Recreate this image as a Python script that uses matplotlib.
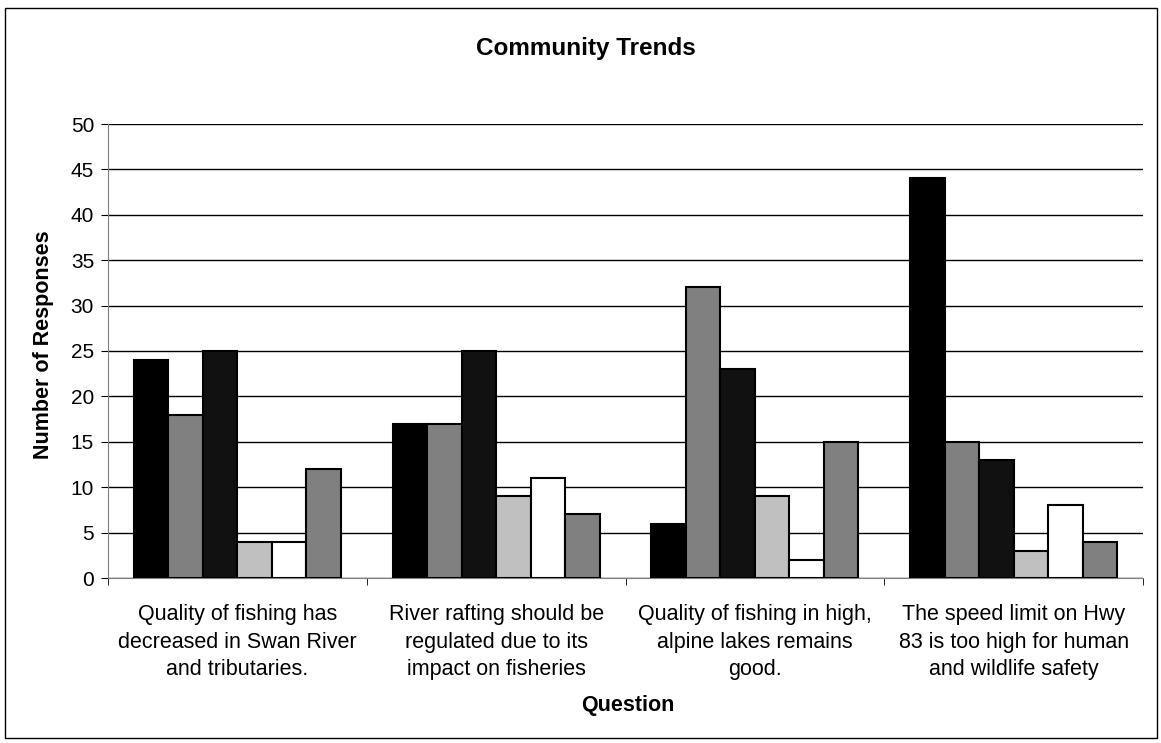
import matplotlib
matplotlib.use("Agg")
import matplotlib.pyplot as plt
import numpy as np
from matplotlib.patches import Rectangle

plt.rcParams['font.family'] = ['Liberation Sans', 'DejaVu Sans']

questions = [
    "Quality of fishing has\ndecreased in Swan River\nand tributaries.",
    "River rafting should be\nregulated due to its\nimpact on fisheries",
    "Quality of fishing in high,\nalpine lakes remains\ngood.",
    "The speed limit on Hwy\n83 is too high for human\nand wildlife safety",
]
s1 = [24, 17, 6, 44]
s2 = [18, 17, 32, 15]
s3 = [25, 25, 23, 13]
s4 = [4, 9, 9, 3]
s5 = [4, 11, 2, 8]
s6 = [12, 7, 15, 4]
series = [s1, s2, s3, s4, s5, s6]
colors = ['#000000', '#808080', '#111111', '#c0c0c0', '#ffffff', '#808080']

fig = plt.figure(figsize=(11.61, 7.43), dpi=100)
ax = fig.add_axes([108 / 1161, 1 - 578 / 743, (1143 - 108) / 1161, (578 - 124) / 743])

x = np.arange(len(questions))
w = 0.8 / 6
for i, (vals, c) in enumerate(zip(series, colors)):
    ax.bar(x - 0.4 + w * (i + 0.5), vals, width=w, color=c,
           edgecolor='black', linewidth=1.5, zorder=3)

ax.set_xlim(-0.5, 3.5)
ax.set_ylim(0, 50)
ax.set_yticks(range(0, 51, 5))
ax.tick_params(axis='y', labelsize=15, length=5, direction='out', pad=5)
ax.yaxis.grid(True, color='black', linewidth=1)
ax.set_axisbelow(True)
ax.set_xticks(x)
ax.set_xticklabels(questions, fontsize=15.5, linespacing=1.4)
ax.tick_params(axis='x', length=0, pad=19)
ax.set_xticks([-0.5, 0.5, 1.5, 2.5, 3.5], minor=True)
ax.tick_params(axis='x', which='minor', length=5, direction='out')
for s in ['top', 'right']:
    ax.spines[s].set_visible(False)
ax.spines['left'].set_color('#808080')
ax.spines['bottom'].set_color('#808080')

fig.text(586 / 1161, 1 - 48 / 743, "Community Trends", fontsize=17.5, fontweight='bold',
         ha='center', va='center')
fig.text(44 / 1161, 1 - 345 / 743, "Number of Responses", fontsize=15.5, fontweight='bold',
         ha='center', va='center', rotation=90)
fig.text(628 / 1161, 1 - 705 / 743, "Question", fontsize=15.5, fontweight='bold',
         ha='center', va='center')

fig.patches.append(Rectangle((5 / 1161, 1 - 738 / 743), 1152 / 1161, 730 / 743,
                             transform=fig.transFigure, fill=False,
                             edgecolor='black', linewidth=1))

fig.savefig("out.png", dpi=100)
